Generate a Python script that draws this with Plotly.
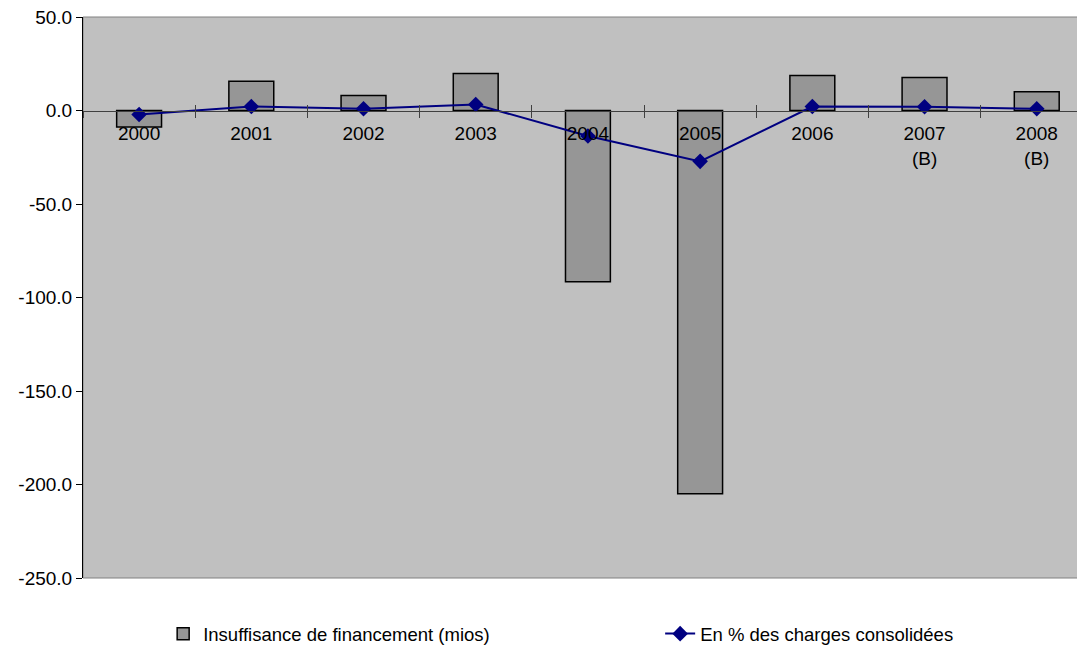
import plotly.graph_objects as go

years = ["2000", "2001", "2002", "2003", "2004", "2005", "2006", "2007<br>(B)", "2008<br>(B)"]
insuffisance = [-8.8, 15.7, 8.0, 19.8, -91.6, -205.0, 18.7, 17.6, 10.0]
pct_charges = [-2.1, 2.1, 0.9, 3.2, -13.6, -27.2, 2.1, 2.0, 0.9]
y_ticks = [-250, -200, -150, -100, -50, 0, 50]

FONT = "Liberation Sans, Arial, sans-serif"
n = len(years)
x_range = [-0.5, n - 0.57]

fig = go.Figure()
fig.add_trace(go.Bar(
    x=years, y=insuffisance, name="Insuffisance de financement (mios)",
    marker=dict(color="#969696", line=dict(color="black", width=1.5)),
    width=0.4, legend="legend",
))
fig.add_trace(go.Scatter(
    x=years, y=pct_charges, name="En % des charges consolidées",
    mode="lines+markers",
    line=dict(color="#000080", width=2),
    marker=dict(symbol="diamond", size=12, color="#000080"),
    legend="legend2",
))
# overlay axis for the upward half of the crossing tick marks
fig.add_trace(go.Scatter(x=[0], y=[0], xaxis="x2", mode="markers",
                         marker=dict(opacity=0), showlegend=False, hoverinfo="skip"))

zero_pos = (0 - y_ticks[0]) / (y_ticks[-1] - y_ticks[0])

leg_common = dict(orientation="h", xanchor="left", y=-0.1, yanchor="middle",
                  font=dict(size=18.5), bgcolor="rgba(0,0,0,0)")

fig.update_layout(
    width=1077, height=643,
    margin=dict(l=75, r=0, t=9, b=73, autoexpand=False),
    paper_bgcolor="white",
    plot_bgcolor="#C0C0C0",
    font=dict(family=FONT, size=19, color="black"),
    showlegend=True,
    legend=dict(x=0.08, **leg_common),
    legend2=dict(x=0.576, **leg_common),
    xaxis=dict(
        type="category", categoryorder="array", categoryarray=years,
        range=x_range, anchor="free", position=zero_pos,
        showline=True, linecolor="#404040", linewidth=1,
        ticks="outside", ticklen=6, tickcolor="#404040", tickson="boundaries",
        showgrid=False, zeroline=False, ticklabelstandoff=6,
        tickfont=dict(size=19), ticklabeloverflow="allow",
    ),
    xaxis2=dict(
        overlaying="x", anchor="free", position=zero_pos, type="linear",
        range=x_range, tickvals=[i + 0.5 for i in range(n - 1)],
        ticks="inside", ticklen=6, tickcolor="#404040", showticklabels=False,
        showgrid=False, zeroline=False, showline=False,
    ),
    yaxis=dict(
        range=[y_ticks[0], y_ticks[-1]], tickvals=y_ticks,
        ticktext=[f"{v:.1f}" for v in y_ticks],
        showline=True, linecolor="black", linewidth=1,
        ticks="outside", ticklen=6, tickcolor="black",
        showgrid=False, zeroline=False, tickfont=dict(size=19),
        ticklabeloverflow="allow",
    ),
    shapes=[dict(type="rect", xref="paper", yref="paper", x0=0, x1=1, y0=0, y1=1,
                 line=dict(color="#808080", width=1), layer="below")],
)

fig.write_html("out.html")
